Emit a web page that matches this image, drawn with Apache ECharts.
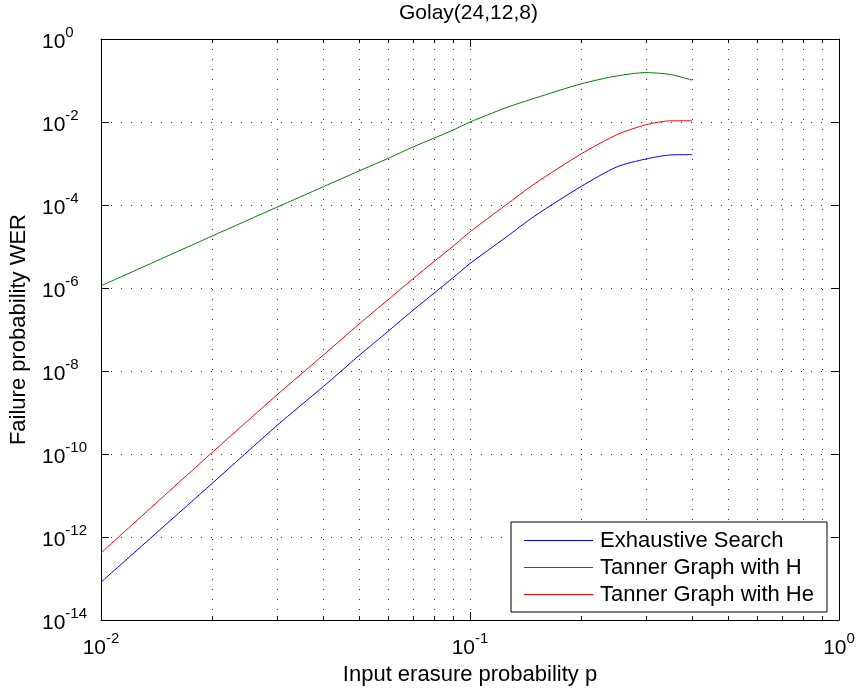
<!DOCTYPE html>
<html>
<head>
<meta charset="utf-8">
<script src="https://cdn.jsdelivr.net/npm/echarts@6/dist/echarts.min.js"></script>
<style>
html,body{margin:0;padding:0;background:#fff;}
#chart{width:858px;height:691px;}
</style>
</head>
<body>
<div id="chart"></div>
<script>
// Input erasure probability p
const pValues = [0.01, 0.02, 0.03, 0.04, 0.05, 0.06, 0.07, 0.08, 0.09, 0.1, 0.125, 0.15, 0.2, 0.25, 0.3, 0.35, 0.4];
// Exhaustive Search
const exhaustive = [8.2e-14, 1.96e-11, 4.9e-10, 4.2e-9, 2.35e-8, 9.1e-8, 2.9e-7, 7.6e-7, 1.78e-6, 3.9e-6, 1.66e-5, 5.5e-5, 2.8e-4, 8.3e-4, 1.29e-3, 1.61e-3, 1.64e-3];
// Tanner Graph with H
const tannerH = [1.13e-6, 1.79e-5, 8.9e-5, 2.75e-4, 6.6e-4, 1.33e-3, 2.5e-3, 4.1e-3, 6.4e-3, 1.0e-2, 2.2e-2, 3.77e-2, 8.3e-2, 0.129, 0.155, 0.139, 0.102];
// Tanner Graph with He
const tannerHe = [4.15e-13, 1.09e-10, 2.68e-9, 2.4e-8, 1.35e-7, 5.25e-7, 1.66e-6, 4.4e-6, 1.02e-5, 2.26e-5, 1.0e-4, 3.3e-4, 1.7e-3, 4.95e-3, 8.6e-3, 1.07e-2, 1.07e-2];
// minor grid positions on the x axis
const minorX = [0.02, 0.03, 0.04, 0.05, 0.06, 0.07, 0.08, 0.09, 0.2, 0.3, 0.4, 0.5, 0.6, 0.7, 0.8, 0.9];
const seriesNames = ['Exhaustive Search', 'Tanner Graph with H', 'Tanner Graph with He'];
const colors = ['#0000ff', '#008000', '#ff0000'];

const FONT = 'Liberation Sans, Arial, sans-serif';
const pair = (ys) => pValues.map((p, i) => [p, ys[i]]);
const expLabel = (v) => '{b|10}{s|' + Math.round(Math.log10(v)) + '}';
const rich = {
  b: {fontSize: 21, fontFamily: FONT, color: '#000', verticalAlign: 'bottom'},
  s: {fontSize: 15, fontFamily: FONT, color: '#000', verticalAlign: 'bottom', padding: [0, 0, 13, 0]}
};
const dotted = {color: '#333', width: 1, type: [1, 9]};

const chart = echarts.init(document.getElementById('chart'), null, {renderer: 'canvas'});
chart.setOption({
  animation: false,
  backgroundColor: '#fff',
  title: {
    text: 'Golay(24,12,8)', left: 399, top: 3, padding: 0,
    textStyle: {fontSize: 21, fontWeight: 'normal', fontFamily: FONT, color: '#000'}
  },
  grid: {left: 101, right: 19, top: 39, bottom: 69},
  legend: {
    orient: 'vertical', left: 511, top: 522,
    data: seriesNames,
    icon: 'rect',
    itemWidth: 69, itemHeight: 1, itemGap: 0,
    padding: [5, 13, 4, 13],
    borderColor: '#000', borderWidth: 1, backgroundColor: '#fff',
    textStyle: {fontSize: 22, lineHeight: 27, fontFamily: FONT, color: '#000', padding: [0, 0, 0, 2]}
  },
  xAxis: [{
    type: 'log', logBase: 10, min: 0.01, max: 1, position: 'bottom',
    name: 'Input erasure probability p', nameLocation: 'middle', nameGap: 36,
    nameTextStyle: {fontSize: 22, fontFamily: FONT, color: '#000'},
    axisLine: {show: true, lineStyle: {color: '#000', width: 1}},
    axisTick: {show: true, inside: true, length: 8, lineStyle: {color: '#000'}},
    axisLabel: {show: true, margin: 11, formatter: expLabel, rich: rich, showMinLabel: true, showMaxLabel: true},
    splitLine: {show: true, lineStyle: dotted}
  }, {
    type: 'log', logBase: 10, min: 0.01, max: 1, position: 'top',
    axisLine: {show: true, lineStyle: {color: '#000', width: 1}},
    axisTick: {show: true, inside: true, length: 8, lineStyle: {color: '#000'}},
    axisLabel: {show: false}, splitLine: {show: false}
  }],
  yAxis: [{
    type: 'log', logBase: 100, min: 1e-14, max: 1, position: 'left',
    name: 'Failure probability WER', nameLocation: 'middle', nameGap: 71,
    nameTextStyle: {fontSize: 22, fontFamily: FONT, color: '#000'},
    axisLine: {show: true, lineStyle: {color: '#000', width: 1}},
    axisTick: {show: true, inside: true, length: 8, lineStyle: {color: '#000'}},
    axisLabel: {show: true, align: 'left', margin: 59, formatter: expLabel, rich: rich, showMinLabel: true, showMaxLabel: true},
    splitLine: {show: true, lineStyle: dotted}
  }, {
    type: 'log', logBase: 100, min: 1e-14, max: 1, position: 'right',
    axisLine: {show: true, lineStyle: {color: '#000', width: 1}},
    axisTick: {show: true, inside: true, length: 8, lineStyle: {color: '#000'}},
    axisLabel: {show: false}, splitLine: {show: false}
  }],
  series: [{
    type: 'custom', name: 'minor', silent: true, z: 1,
    xAxisIndex: 0, yAxisIndex: 0,
    data: minorX.map(v => [v, 1e-7]),
    renderItem: function (params, api) {
      const x = api.value(0);
      const top = api.coord([x, 1]);
      const bot = api.coord([x, 1e-14]);
      const px = Math.round(top[0]) + 0.5;
      return {
        type: 'group', children: [
          {type: 'line', shape: {x1: px, y1: top[1], x2: px, y2: bot[1]}, style: {stroke: '#333', lineWidth: 1, lineDash: [1, 9]}},
          {type: 'line', shape: {x1: px, y1: bot[1], x2: px, y2: bot[1] - 4}, style: {stroke: '#000', lineWidth: 1}},
          {type: 'line', shape: {x1: px, y1: top[1], x2: px, y2: top[1] + 4}, style: {stroke: '#000', lineWidth: 1}}
        ]
      };
    }
  }].concat([exhaustive, tannerH, tannerHe].map((ys, i) => ({
    type: 'line', name: seriesNames[i], data: pair(ys),
    xAxisIndex: 0, yAxisIndex: 0,
    symbol: 'none', showSymbol: false, smooth: 0.25,
    lineStyle: {color: colors[i], width: 1}, itemStyle: {color: colors[i]}, z: 3
  })))
});
</script>
</body>
</html>
